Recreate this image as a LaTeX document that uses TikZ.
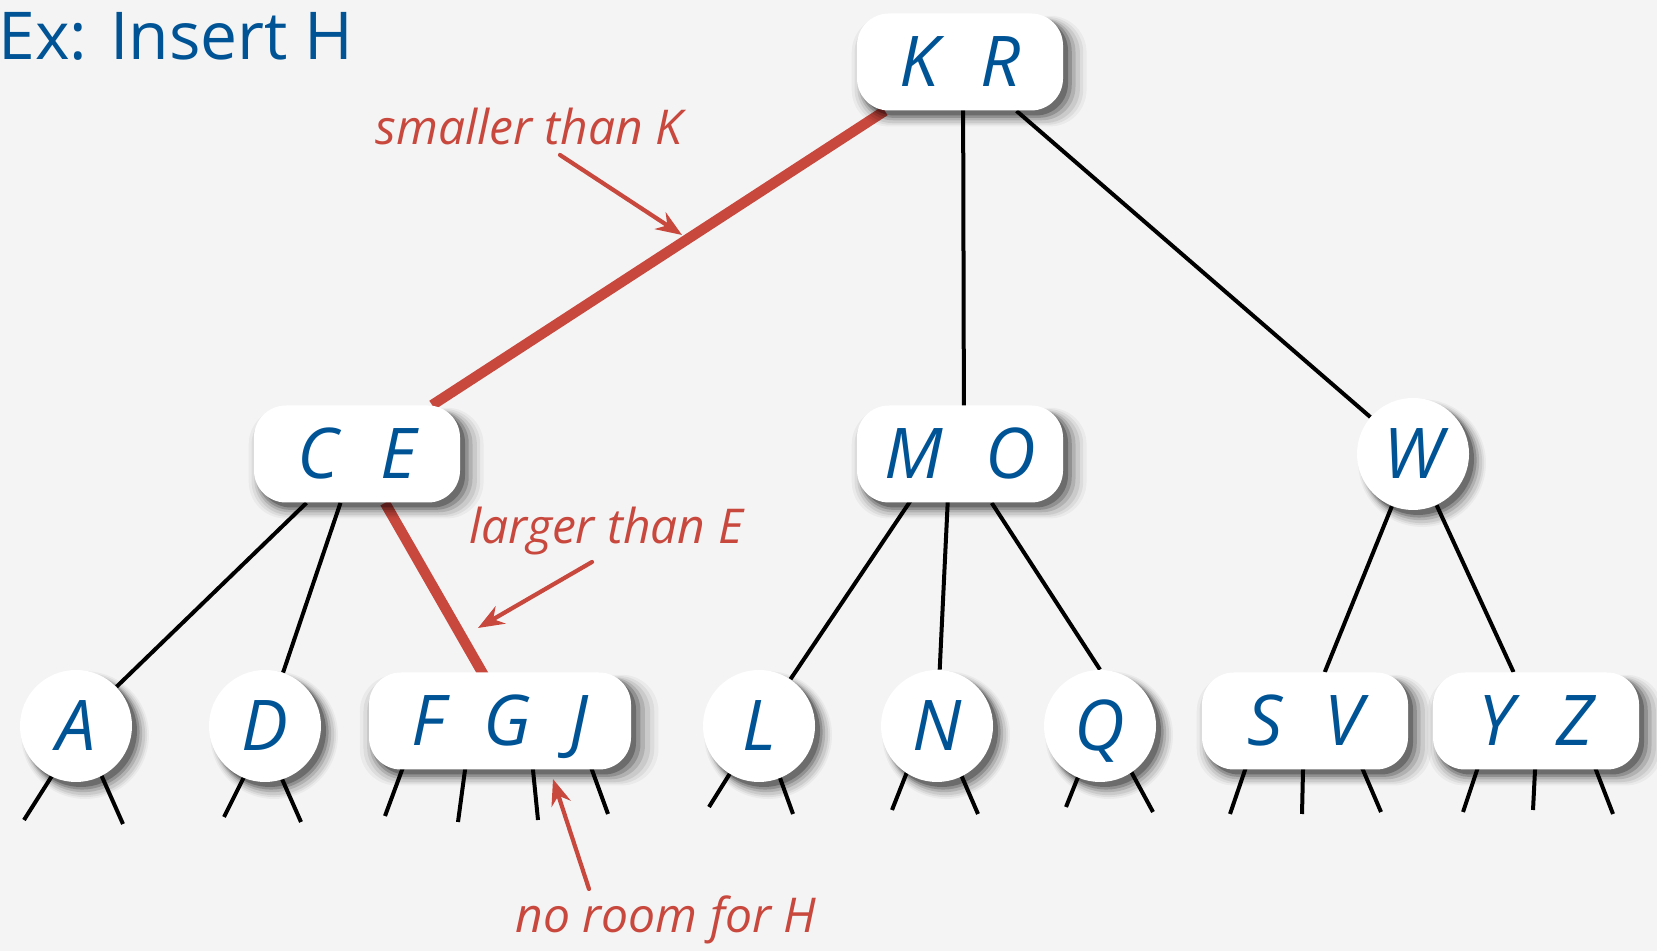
\documentclass[tikz,border=0pt]{standalone}
\usepackage{fontspec}
\setmainfont{Open Sans}
\usetikzlibrary{arrows.meta,shadows,backgrounds,calc}
\definecolor{keyblue}{RGB}{0,84,150}
\definecolor{pathred}{RGB}{200,72,62}
\definecolor{slidebg}{RGB}{244,244,244}

\begin{document}
\begin{tikzpicture}[x=0.5pt, y=0.5pt, line cap=round, line join=round,
	nodeshadow/.style={
		general shadow={shadow xshift=4pt, shadow yshift=-4pt, shadow scale=1.14, fill=black, opacity=.04},
		general shadow={shadow xshift=4pt, shadow yshift=-4pt, shadow scale=1.11, fill=black, opacity=.06},
		general shadow={shadow xshift=4pt, shadow yshift=-4pt, shadow scale=1.08, fill=black, opacity=.08},
		general shadow={shadow xshift=3.5pt, shadow yshift=-3.5pt, shadow scale=1.05, fill=black, opacity=.12},
		general shadow={shadow xshift=3pt, shadow yshift=-3pt, shadow scale=1.025, fill=black, opacity=.18},
		general shadow={shadow xshift=2.5pt, shadow yshift=-2.5pt, fill=black, opacity=.25}},
	key/.style={fill=white, nodeshadow, text=keyblue, inner sep=0pt,
		font=\fontsize{35}{40}\selectfont\itshape, text height=25pt, text depth=0pt},
	knode/.style={key, rounded corners=16pt, minimum width=103pt, minimum height=48.5pt},
	cnode/.style={key, circle, minimum size=56pt},
	link/.style={line width=2pt},
	redlink/.style={line width=5.2pt, pathred},
	stub/.style={line width=2pt, shorten <=-6pt},
	note/.style={text=pathred, inner sep=0pt, anchor=base, font=\fontsize{24}{28}\selectfont\itshape},
	notearrow/.style={pathred, line width=2.1pt, -{Stealth[length=13pt, width=10pt]}}]

	\begin{scope}[on background layer]
		\fill[slidebg] (0,0) rectangle (1657,951);
	\end{scope}
	\useasboundingbox (0,0) rectangle (1657,951);

	% title
	\node[anchor=base west, inner sep=0pt, text=keyblue, font=\fontsize{33}{40}\selectfont] (title) at (-2,891) {Ex: Insert H};

	% root
	\node[knode] (KR) at (960,889) {K\hspace{0.6em}R};

	% level 1
	\node[knode] (CE) at (357,497) {C\hspace{0.6em}E};
	\node[knode] (MO) at (960,497) {M\hspace{0.6em}O};
	\node[cnode] (W) at (1413,497) {W};

	% level 2
	\node[cnode] (A) at (76,225) {A};
	\node[cnode] (D) at (265,225) {D};
	\node[knode, minimum width=131pt] (FGJ) at (500,230) {F\hspace{0.55em}G\hspace{0.55em}J};
	\node[cnode] (L) at (759,225) {L};
	\node[cnode] (N) at (937,225) {N};
	\node[cnode] (Q) at (1100,225) {Q};
	\node[knode] (SV) at (1305,230) {S\hspace{0.6em}V};
	\node[knode] (YZ) at (1536,230) {Y\hspace{0.6em}Z};

	% links
	\begin{scope}[on background layer]
		\draw[redlink] (KR) -- (CE);
		\draw[link] ($(KR)+(3,0)$) -- ($(MO)+(4,0)$);
		\draw[link] (KR) -- (W);
		\draw[link] (CE) -- (A);
		\draw[link] (CE) -- (D);
		\draw[redlink] (CE) -- ($(FGJ)+(10,0)$);
		\draw[link] ($(MO)+(-18,0)$) -- (L);
		\draw[link] ($(MO)+(-10,0)$) -- (N);
		\draw[link] (MO) -- (Q.north);
		\draw[link] (W) -- (SV);
		\draw[link] (W) -- (YZ);
		% empty subtrees
		\foreach \n/\sx/\sy/\ex/\ey in {
			A/-26/-53/-52/-94, A/27/-53/47/-98,
			D/-22/-53/-41/-91, D/17/-53/36/-96,
			FGJ/-98/-49/-115/-95, FGJ/-35/-49/-42/-101, FGJ/33/-49/38/-99, FGJ/92/-49/108/-93,
			L/-30/-49/-50/-81, L/21/-52/34/-88,
			N/-32/-51/-45/-84, N/25/-51/41/-88,
			Q/-22/-51/-34/-81, Q/34/-51/53/-86,
			SV/-60/-49/-75/-93, SV/-2/-49/-3/-93, SV/58/-49/76/-91,
			YZ/-59/-49/-73/-91, YZ/-1/-49/-3/-89, YZ/60/-49/77/-93} {
			\draw[stub] ($(\n)+(\sx,\sy)$) -- ($(\n)+(\ex,\ey)$);
		}
	\end{scope}

	% notes
	\node[note] (smaller) at (529,806) {smaller than K};
	\node[note] (larger) at (606,407) {larger than E};
	\node[note] (noroom) at (666,18) {no room for H};
	\coordinate (smallertail) at (560,796);
	\coordinate (smallertip) at (682,716);
	\coordinate (largertail) at (592,389);
	\coordinate (largertip) at (478,323);
	\coordinate (noroomtail) at (589,62);
	\coordinate (noroomtip) at (553,172);
	\draw[notearrow] (smallertail) -- (smallertip);
	\draw[notearrow] (largertail) -- (largertip);
	\draw[notearrow] (noroomtail) -- (noroomtip);
\end{tikzpicture}
\end{document}
